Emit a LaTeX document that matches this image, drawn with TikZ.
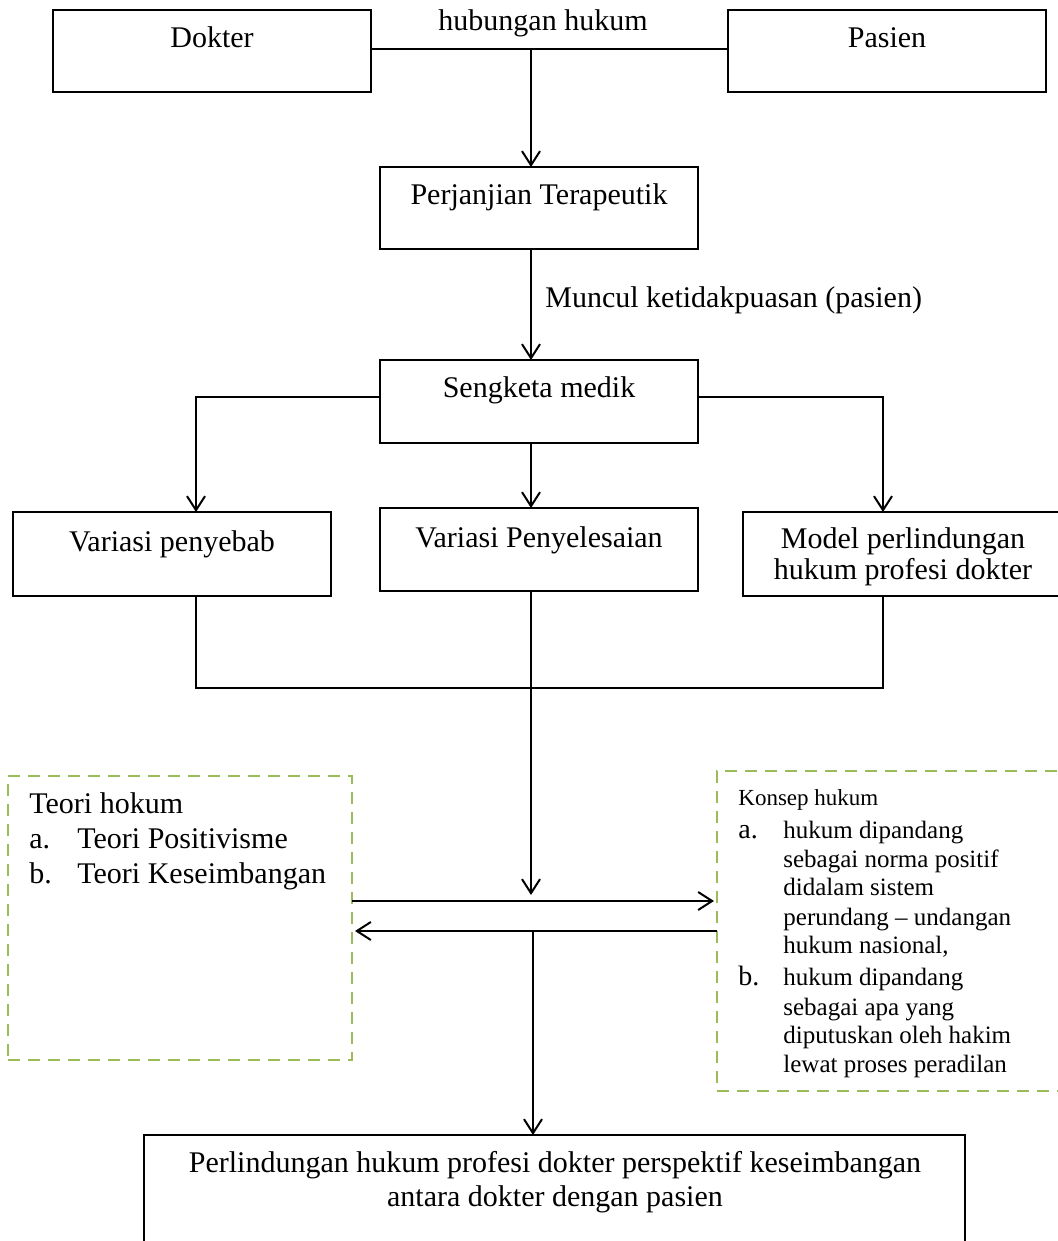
\documentclass[tikz,border=0pt]{standalone}
\usepackage{fontspec}
\setmainfont{Liberation Serif}
\usetikzlibrary{arrows.meta}
\definecolor{dgreen}{HTML}{9BBB59}
\tikzset{
  box/.style={draw, line width=1.1pt, anchor=north west, inner sep=0pt, outer sep=0pt},
  dbox/.style={draw=dgreen, line width=1.3pt, dash pattern=on 6pt off 4pt, anchor=north west, inner sep=0pt, outer sep=0pt},
  txt/.style={inner sep=0pt, anchor=base, font=\fontsize{15}{18}\selectfont},
  ltxt/.style={txt, anchor=base west},
  stxt/.style={inner sep=0pt, anchor=base west, font=\fontsize{12.5}{15}\selectfont},
  ktxt/.style={inner sep=0pt, anchor=base west, font=\fontsize{11.5}{14}\selectfont},
  lab/.style={inner sep=0pt, anchor=base west, font=\fontsize{14}{16}\selectfont},
  ln/.style={line width=1pt},
  arr/.style={line width=1pt, -{Straight Barb[length=7pt, width=9pt, line width=1pt]}}
}
\begin{document}
\begin{tikzpicture}[x=0.5pt, y=-0.5pt]
\useasboundingbox (0,0) rectangle (1057,1241);

% boxes
\node[box, minimum width=159pt, minimum height=41pt] (dok) at (53,10) {};
\node[box, minimum width=159pt, minimum height=41pt] (pas) at (728,10) {};
\node[box, minimum width=159pt, minimum height=41pt] (per) at (380,167) {};
\node[box, minimum width=159pt, minimum height=41.5pt] (seng) at (380,360) {};
\node[box, minimum width=159pt, minimum height=42pt] (vp) at (13,512) {};
\node[box, minimum width=159pt, minimum height=41.5pt] (vs) at (380,508) {};
\node[box, minimum width=159pt, minimum height=42pt] (mp) at (743,512) {};
\node[box, minimum width=410.5pt, minimum height=70pt] (bot) at (144,1135) {};
\node[dbox, minimum width=172pt, minimum height=142pt] (teori) at (8,776) {};
\node[dbox, minimum width=185pt, minimum height=160pt] (konsep) at (717,771) {};

% texts
\node[txt] (tdok) at (212,48) {Dokter};
\node[txt] (tpas) at (887,48) {Pasien};
\node[txt] (thub) at (543,31) {hubungan hukum};
\node[txt] (tper) at (539,205) {Perjanjian Terapeutik};
\node[ltxt] (tmun) at (545,307) {Muncul ketidakpuasan (pasien)};
\node[txt] (tseng) at (539,397) {Sengketa medik};
\node[txt] (tvp) at (172,551) {Variasi penyebab};
\node[txt] (tvs) at (539,547) {Variasi Penyelesaian};
\node[txt] (tmp1) at (903,548) {Model perlindungan};
\node[txt] (tmp2) at (903,579) {hukum profesi dokter};
\node[txt] (tbot1) at (555,1172) {Perlindungan hukum profesi dokter perspektif keseimbangan};
\node[txt] (tbot2) at (555,1206) {antara dokter dengan pasien};

\node[ltxt] (tth) at (29,813) {Teori hokum};
\node[ltxt] (tta) at (29,848) {a.};
\node[ltxt] (tta2) at (77,848) {Teori Positivisme};
\node[ltxt] (ttb) at (29,883) {b.};
\node[ltxt] (ttb2) at (77,883) {Teori Keseimbangan};

\node[ktxt] (tkh) at (738,805) {Konsep hukum};
\node[lab] (tka) at (738,838) {a.};
\node[stxt] (tka1) at (783,838) {hukum dipandang};
\node[stxt] (tka2) at (783,867) {sebagai norma positif};
\node[stxt] (tka3) at (783,895) {didalam sistem};
\node[stxt] (tka4) at (783,925) {perundang -- undangan};
\node[stxt] (tka5) at (783,953) {hukum nasional,};
\node[lab] (tkb) at (738,985) {b.};
\node[stxt] (tkb1) at (783,985) {hukum dipandang};
\node[stxt] (tkb2) at (783,1015) {sebagai apa yang};
\node[stxt] (tkb3) at (783,1043) {diputuskan oleh hakim};
\node[stxt] (tkb4) at (783,1072) {lewat proses peradilan};

% helper coordinates
\coordinate (top) at (531,49);
\coordinate (L) at (196,397);
\coordinate (R) at (883,397);
\coordinate (J) at (531,688);
\coordinate (mid) at (531,895);
\coordinate (h1) at (531,901);
\coordinate (h2) at (533,931);

% connectors
\draw[ln] (dok.east |- top) -- (pas.west |- top);
\draw[arr] (top) -- (top |- per.north);
\draw[arr] (top |- per.south) -- (top |- seng.north);
\draw[arr] (seng.west |- L) -- (L) -- (L |- vp.north);
\draw[arr] (seng.east |- R) -- (R) -- (R |- mp.north);
\draw[arr] (top |- seng.south) -- (top |- vs.north);
\draw[ln] (L |- vp.south) -- (L |- J) -- (R |- J) -- (R |- mp.south);
\draw[arr] (top |- vs.south) -- (mid);
\draw[arr, shorten >=1.5pt] (teori.east |- h1) -- (konsep.west |- h1);
\draw[arr, shorten >=1.5pt] (konsep.west |- h2) -- (teori.east |- h2);
\draw[arr] (h2) -- (h2 |- bot.north);
\end{tikzpicture}
\end{document}
